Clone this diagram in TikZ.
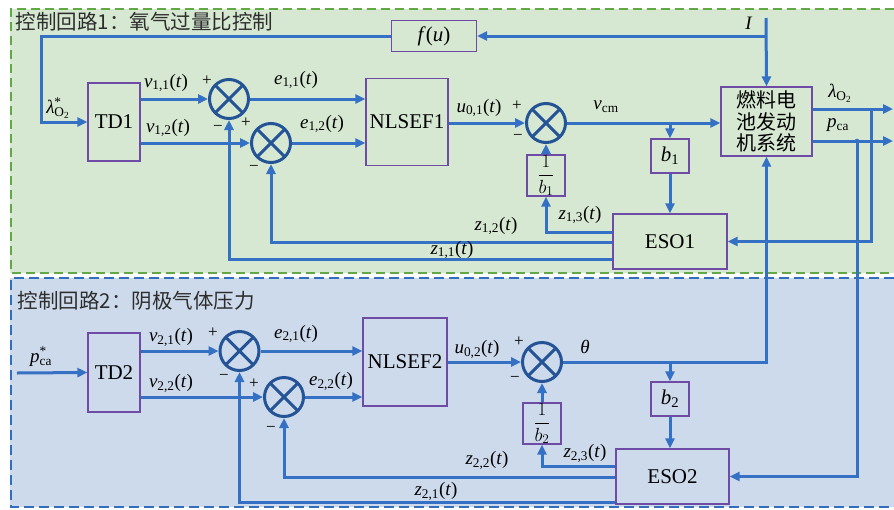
\RequirePackage{fix-cm}
\documentclass[tikz,border=0pt]{standalone}
\usepackage{fontspec}
\setmainfont{Liberation Serif}
\newfontfamily\cjk{Noto Sans CJK SC}
\usetikzlibrary{arrows.meta}
\definecolor{bggreen}{RGB}{214,232,210}
\definecolor{dashgreen}{RGB}{98,168,70}
\definecolor{bgblue}{RGB}{205,218,235}
\definecolor{dashblue}{RGB}{50,110,190}
\definecolor{linec}{RGB}{52,112,196}
\definecolor{sumc}{RGB}{36,84,150}
\definecolor{boxc}{RGB}{110,75,165}
\definecolor{titlec}{RGB}{45,45,45}
\newcommand{\sig}[2]{\textit{#1}\textsubscript{#2}(\textit{t})}

\begin{document}
\begin{tikzpicture}[x=1pt,y=-1pt,line width=3pt,>={Triangle[length=10pt,width=9pt]},
  font=\fontsize{19}{21}\selectfont,
  blk/.style={draw=boxc,line width=1.3pt,inner sep=0pt,font=\fontsize{21}{23}\selectfont},
  sumnode/.style={circle,draw=sumc,line width=3pt,minimum size=39pt,inner sep=0pt,
    path picture={\draw[sumc,line width=3pt]
      (path picture bounding box.north west) -- (path picture bounding box.south east)
      (path picture bounding box.north east) -- (path picture bounding box.south west);}},
  wire/.style={linec,->},
  sgn/.style={font=\fontsize{17}{17}\selectfont},
  ttl/.style={anchor=west,text=titlec,font=\cjk\fontsize{20.5}{22}\selectfont}]
  \useasboundingbox (0,0) rectangle (894,509);
  % loop areas
  \fill[bggreen] (10,9) rectangle (894,273);
  \draw[dashgreen,line width=2pt,dash pattern=on 9pt off 5pt] (894,9) -- (11,9) -- (11,273) -- (894,273);
  \fill[bgblue] (10,278) rectangle (894,507);
  \draw[dashblue,line width=2.5pt,dash pattern=on 10pt off 5pt] (894,278) -- (11,278) -- (11,507) -- (894,507);
  \node[ttl] (title1) at (11,22) {控制回路1：氧气过量比控制};
  \node[ttl] (title2) at (13,301) {控制回路2：阴极气体压力};

  % loop 1
  \node[blk,minimum width=52pt,minimum height=78pt] (td1) at (114,122) {TD1};
  \node[sumnode] (s11) at (229,99) {};
  \node[sumnode] (s12) at (271,143) {};
  \node[blk,minimum width=82pt,minimum height=87pt] (nl1) at (407,122) {NLSEF1};
  \node[sumnode] (s13) at (546,123) {};
  \node[blk,minimum width=85pt,minimum height=31pt] (fu) at (434,36) {\textit{f}(\textit{u})};
  \node[blk,minimum width=91pt,minimum height=69pt,align=center,
    font=\cjk\fontsize{20}{21.5}\selectfont] (fc) at (766.5,121.5) {燃料电\\池发动\\机系统};
  \node[blk,minimum width=38pt,minimum height=34pt] (b1) at (670,156) {\textit{b}\textsubscript{1}};
  \node[blk,minimum width=38pt,minimum height=37pt,font=\fontsize{19}{19}\selectfont] (ib1) at (546,175.5) {$\displaystyle\frac{1}{b_1}$};
  \node[blk,minimum width=114pt,minimum height=55pt] (eso1) at (670,241.5) {ESO1};

  % loop 2
  \node[blk,minimum width=52pt,minimum height=79pt] (td2) at (114,372.5) {TD2};
  \node[sumnode] (s21) at (239.5,351) {};
  \node[sumnode] (s22) at (284,397) {};
  \node[blk,minimum width=84pt,minimum height=88pt] (nl2) at (405,362) {NLSEF2};
  \node[sumnode] (s23) at (542,362) {};
  \node[blk,minimum width=38pt,minimum height=34pt] (b2) at (670,399) {\textit{b}\textsubscript{2}};
  \node[blk,minimum width=38pt,minimum height=37pt,font=\fontsize{19}{19}\selectfont] (ib2) at (542,423.5) {$\displaystyle\frac{1}{b_2}$};
  \node[blk,minimum width=113pt,minimum height=55pt] (eso2) at (672.5,476.5) {ESO2};

  \coordinate (cl) at (41,36);
  \coordinate (itop) at (766,18);
  \coordinate (lj) at (871,109);
  \coordinate (pj) at (857,141);
  \coordinate (lamout) at (893,109);
  \coordinate (pout) at (893,141);
  \coordinate (pin) at (17,373);

  % connectors, loop 1
  \draw[wire] (fu.west) -- (cl) |- (td1.west);
  \draw[wire] (itop) -- (fc.north);
  \draw[wire] (itop |- fu) -- (fu.east);
  \draw[wire] (td1.east |- s11) -- (s11.west);
  \draw[wire] (td1.east |- s12) -- (s12.west);
  \draw[wire] (s11.east) -- (nl1.west |- s11);
  \draw[wire] (s12.east) -- (nl1.west |- s12);
  \draw[wire] (nl1.east |- s13) -- (s13.west);
  \draw[wire] (s13.east) -- (fc.west |- s13);
  \draw[wire] (b1 |- s13) -- (b1.north);
  \draw[wire] (b1.south) -- (eso1.north);
  \draw[wire] (ib1.north) -- (s13.south);
  \draw[wire] ([yshift=9.5pt]eso1.west) -| (ib1.south);
  \draw[wire] ([yshift=-0.5pt]eso1.west) -| (s12.south);
  \draw[wire] ([yshift=-17.5pt]eso1.west) -| (s11.south);
  \draw[wire] (fc.east |- lamout) -- (lamout);
  \draw[wire] (fc.east |- pout) -- (pout);
  \draw[wire] (lj) |- (eso1.east);
  \draw[wire] (pj) |- (eso2.east);
  \fill[linec] (pj) circle (2.3pt);

  % connectors, loop 2
  \draw[wire] (pin) -- (td2.west);
  \draw[wire] (td2.east |- s21) -- (s21.west);
  \draw[wire] (td2.east |- s22) -- (s22.west);
  \draw[wire] (s21.east) -- (nl2.west |- s21);
  \draw[wire] (s22.east) -- (nl2.west |- s22);
  \draw[wire] (nl2.east |- s23) -- (s23.west);
  \draw[wire] (s23.east) -| (fc.south);
  \draw[wire] (b2 |- s23) -- (b2.north);
  \draw[wire] (b2.south) -- (b2.south |- eso2.north);
  \draw[wire] (ib2.north) -- (s23.south);
  \draw[wire] ([yshift=10.5pt]eso2.west) -| (ib2.south);
  \draw[wire] ([yshift=-0.5pt]eso2.west) -| (s22.south);
  \draw[wire] ([yshift=-25.5pt]eso2.west) -| (s21.south);

  % labels, loop 1
  \node (llam) at (58,108) {\textit{λ}\rlap{\textsuperscript{*}}\textsubscript{O\textsubscript{2}}};
  \node (lI) at (749,23) {\textit{I}};
  \node (lv11) at (166,83) {\sig{v}{1,1}};
  \node (lv12) at (168,128) {\sig{v}{1,2}};
  \node (le11) at (296,80) {\sig{e}{1,1}};
  \node (le12) at (322,124) {\sig{e}{1,2}};
  \node (lu01) at (479,108) {\sig{u}{0,1}};
  \node (lvcm) at (606,107) {\textit{v}\textsubscript{cm}};
  \node (llo) at (840,93) {\textit{λ}\textsubscript{O\textsubscript{2}}};
  \node (lpca) at (838,125) {\textit{p}\textsubscript{ca}};
  \node (lz13) at (580,215) {\sig{z}{1,3}};
  \node (lz12) at (496,226) {\sig{z}{1,2}};
  \node (lz11) at (452,250) {\sig{z}{1,1}};
  \node[sgn] (p11) at (207,81) {+};
  \node[sgn] (m11) at (218,128) {−};
  \node[sgn] (p12) at (246,123) {+};
  \node[sgn] (m12) at (254,168) {−};
  \node[sgn] (p13) at (517,106) {+};
  \node[sgn] (m13) at (518,137) {−};

  % labels, loop 2
  \node (lpin) at (41,357) {\textit{p}\rlap{\textsuperscript{*}}\textsubscript{ca}};
  \node (lv21) at (171,337) {\sig{v}{2,1}};
  \node (lv22) at (171,383) {\sig{v}{2,2}};
  \node (le21) at (296,334) {\sig{e}{2,1}};
  \node (le22) at (331,381) {\sig{e}{2,2}};
  \node (lu02) at (477,349) {\sig{u}{0,2}};
  \node (lth) at (585,347) {\textit{θ}};
  \node (lz23) at (585,453) {\sig{z}{2,3}};
  \node (lz22) at (487,460) {\sig{z}{2,2}};
  \node (lz21) at (436,491) {\sig{z}{2,1}};
  \node[sgn] (p21) at (213,333) {+};
  \node[sgn] (m21) at (224,377) {−};
  \node[sgn] (p22) at (254,384) {+};
  \node[sgn] (m22) at (271,429) {−};
  \node[sgn] (p23) at (519,342) {+};
  \node[sgn] (m23) at (515,379) {−};
\end{tikzpicture}
\end{document}
